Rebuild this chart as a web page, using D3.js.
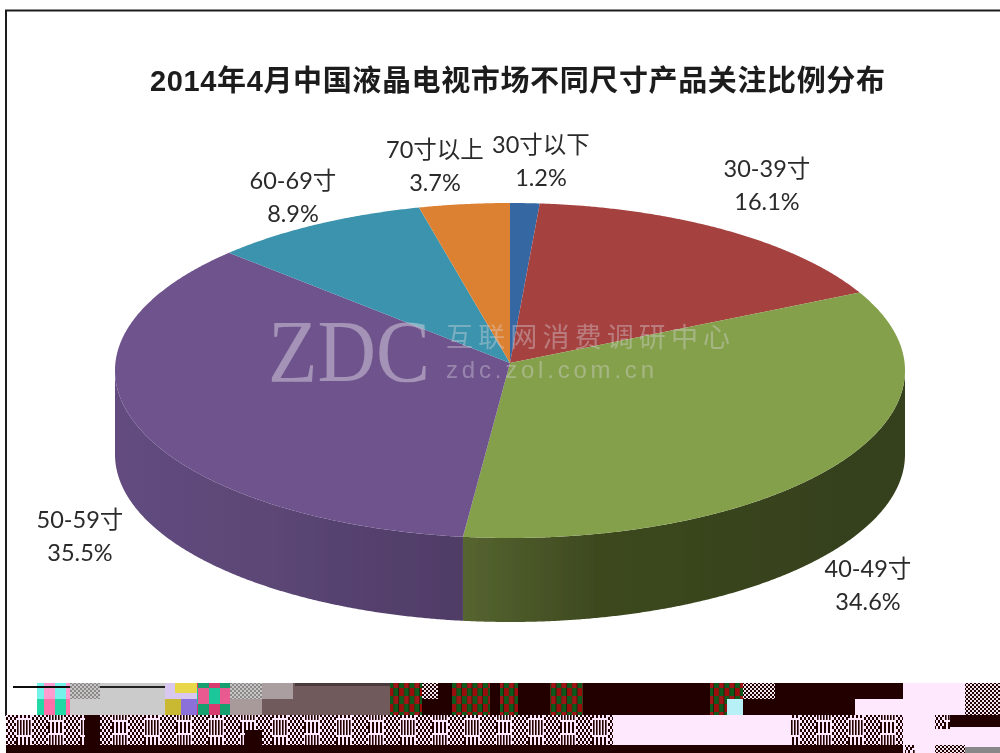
<!DOCTYPE html>
<html><head><meta charset="utf-8">
<script src="https://cdn.jsdelivr.net/npm/d3@7"></script>
<style>html,body{margin:0;padding:0;background:#fff}svg{display:block}</style>
</head><body><svg id="c" width="1000" height="753"></svg>
<script>
const categories=["30寸以下","30-39寸","40-49寸","50-59寸","60-69寸","70寸以上"];
const shares=[1.2,16.1,34.6,35.5,8.9,3.7];
const topColors=["#3567a3","#a5423f","#84a04b","#6e528d","#3b93ad","#dc8133"];
const labelCentres=[[541,153],[767,177],[868,577],[80,528],[293,189],[435,158]];
const titleText="2014年4月中国液晶电视市场不同尺寸产品关注比例分布";

const svg=d3.select("#c");
const defs=svg.append("defs");
const DARK="#240000",PINK="#fde8fd";

defs.append("filter").attr("id","soft").append("feGaussianBlur").attr("stdDeviation",0.5);
defs.append("filter").attr("id","soft2").append("feGaussianBlur").attr("stdDeviation",0.7);

function grad(id,stops){
  const g=defs.append("linearGradient").attr("id",id).attr("gradientUnits","userSpaceOnUse")
    .attr("x1",115).attr("x2",905).attr("y1",0).attr("y2",0);
  stops.forEach(([o,c])=>g.append("stop").attr("offset",o).attr("stop-color",c));
}
grad("sidePurple",[[0,"#634c80"],[0.2,"#5b4675"],[0.44,"#4f3c66"],[1,"#4f3c66"]]);
grad("sideGreen",[[0,"#566530"],[0.44,"#566530"],[0.52,"#4a5728"],[0.62,"#3c481e"],[1,"#343f1b"]]);
const sideFill={2:"url(#sideGreen)",3:"url(#sidePurple)"};

// pie geometry
const x=d3.scaleLinear().domain([-1,1]).range([115,905]);
const y=d3.scaleLinear().domain([-1,1]).range([203,538]);
const apex=[510,363], depth=84;
const rim=a=>[x(Math.sin(a)),y(-Math.cos(a))];
const arcs=d3.pie().sort(null).value(d=>d)(shares);
const line=d3.line();
const samples=(a,b)=>d3.range(a,b,0.005).concat([b]);

const pieG=svg.append("g").attr("filter","url(#soft)");
arcs.forEach((d,i)=>{
  const a=Math.max(d.startAngle,Math.PI/2),b=Math.min(d.endAngle,1.5*Math.PI);
  if(a>=b)return;
  const up=samples(a,b).map(rim);
  const down=up.slice().reverse().map(p=>[p[0],p[1]+depth]);
  pieG.append("path").attr("d",line(up.concat(down))+"Z").attr("fill",sideFill[i]);
});
arcs.forEach((d,i)=>{
  pieG.append("path").attr("d",line([apex].concat(samples(d.startAngle,d.endAngle).map(rim)))+"Z")
    .attr("fill",topColors[i]);
});

// watermark
const wm=svg.append("g").attr("filter","url(#soft2)");
wm.append("text").attr("x",268).attr("y",381).attr("font-family","Liberation Serif")
  .attr("font-size",88).attr("textLength",162).attr("lengthAdjust","spacingAndGlyphs")
  .attr("fill","#dedae2").attr("fill-opacity",.48).text("ZDC");
wm.append("text").attr("x",446).attr("y",347).attr("font-family","Noto Sans CJK SC")
  .attr("font-size",27).attr("textLength",284).attr("fill","#dcd8e0").attr("fill-opacity",.38).text("互联网消费调研中心");
wm.append("text").attr("x",446).attr("y",378).attr("font-family","Liberation Sans")
  .attr("font-size",24).attr("textLength",208).attr("fill","#dcd8e0").attr("fill-opacity",.38).text("zdc.zol.com.cn");

// title
svg.append("text").attr("x",150).attr("y",91).attr("font-family","Liberation Sans, Noto Sans CJK SC")
  .attr("font-weight",700).attr("font-size",29).attr("textLength",735).attr("fill","#1a1a1a")
  .attr("filter","url(#soft)").text(titleText);

// labels
const lab=svg.append("g").attr("font-family","Lato, Noto Sans CJK SC").attr("font-size",23.5)
  .attr("fill","#2a2a2a").attr("text-anchor","middle").attr("filter","url(#soft)");
categories.forEach((c,i)=>{
  const [lx,ly]=labelCentres[i];
  lab.append("text").attr("x",lx).attr("y",ly).text(c);
  lab.append("text").attr("x",lx).attr("y",ly+33).text(shares[i].toFixed(1)+"%");
});

// frame
svg.append("path").attr("d","M6 716V10.5H1000").attr("fill","none").attr("stroke","#1c1c1c").attr("stroke-width",2);

// corrupted image strip at the bottom
function tile(id,w,h,cells,a,b){
  const p=defs.append("pattern").attr("id",id).attr("patternUnits","userSpaceOnUse").attr("width",w).attr("height",h);
  p.append("rect").attr("width",w).attr("height",h).attr("fill",a);
  cells.forEach(([cx,cy,cw,ch,col])=>p.append("rect").attr("x",cx).attr("y",cy).attr("width",cw).attr("height",ch).attr("fill",col||b));
}
const mix=[];
for(let i=0;i<8;i++){ for(let j=0;j<5;j++){ if((i+j)%2==0) mix.push([i*2,j*3,2,3]); } }
for(let i=0;i<5;i++){ mix.push([16+i*3+1,0,1.6,15]); }
for(let i=0;i<8;i++){ for(let j=0;j<5;j++){ if((i+j)%2==1) mix.push([32+i*2,j*3,2,3]); } }
for(let i=0;i<4;i++){ mix.push([48+i*4,2,2,11]); }
tile("noise",64,30,mix.concat(mix.map(m=>[(m[0]+32)%64,m[1]+15,m[2],m[3]])),PINK,DARK);
const chk=[];for(let i=0;i<8;i++)for(let j=0;j<8;j++) if((i+j)%2==0) chk.push([i*2,j*2,2,2]);
tile("chkGray",16,16,chk,"#c9c6c6","#8a8888");
tile("chkDark",16,16,chk,"#f3e6f0",DARK);
tile("cmykTop",22,16,[[0,0,11,16,"#ff9ccf"],[11,0,11,16,"#74f2ea"]],PINK,DARK);
tile("cmykBot",22,16,[[0,0,11,16,"#ff6fa8"],[11,0,11,16,"#22d8a4"]],PINK,DARK);
tile("cmykMid",22,32,[[0,0,11,16,"#12a070"],[11,0,11,16,"#d83a70"],[0,16,11,16,"#e85a90"],[11,16,11,16,"#1ec89a"]],PINK,DARK);
const rg=[[0,0,5,8,"#9a1010"],[5,0,5,8,"#0a5a1a"],[0,8,5,8,"#0a5a1a"],[5,8,5,8,"#a01414"]];
tile("redgreen",10.5,16,rg,DARK,DARK);

const strip=[
 [6,715,994,38,DARK],
 [70,683,95,32,"#cbcbcb"],
 [37,683,33,16,"url(#cmykTop)"],[37,699,33,16,"url(#cmykBot)"],
 [70,683,30,16,"url(#chkGray)"],
 [165,683,32,16,"#d8c8f0"],[175,683,22,10,"#e8d84a"],[165,699,16,16,"#c8b830"],[181,699,16,16,"#8a70d8"],
 [197,683,33,32,"url(#cmykMid)"],
 [230,683,32,16,"url(#chkGray)"],[230,699,32,16,"#a89a9a"],
 [262,683,31,16,"#ab9ea0"],[262,699,31,16,"#6f5a5c"],[293,683,97,32,"#6f5a5c"],
 [390,683,32,32,"url(#redgreen)"],
 [422,683,16,16,"url(#chkDark)"],[422,699,16,16,DARK],
 [438,683,465,32,DARK],
 [452,683,38,32,"url(#redgreen)"],[500,683,18,32,"url(#redgreen)"],[550,683,33,32,"url(#redgreen)"],
 [710,683,33,32,"url(#redgreen)"],[743,683,32,16,"url(#chkDark)"],[727,699,16,16,"#b8f0f8"],
 [855,699,48,16,PINK],[903,683,62,32,PINK],[965,683,35,32,"url(#chkDark)"],
 [6,715,79,30,"url(#noise)"],[100,715,513,30,"url(#noise)"],[245,730,17,15,DARK],
 [613,715,177,30,PINK],[790,715,113,30,"url(#noise)"],
 [903,715,32,30,PINK],[935,715,15,14,"url(#noise)"],[950,715,50,12,DARK],[950,727,50,18,PINK],[935,729,15,16,PINK],
 [903,745,97,8,PINK],[905,745,10,8,"url(#noise)"],[935,745,30,8,"url(#chkDark)"],[965,747,35,6,"#888888"]
];
const sG=svg.append("g").attr("filter","url(#soft)");
strip.forEach(([a,b,w,h,f])=>sG.append("rect").attr("x",a).attr("y",b).attr("width",w).attr("height",h).attr("fill",f));
sG.append("rect").attr("x",13).attr("y",686).attr("width",57).attr("height",2).attr("fill","#111");
sG.append("rect").attr("x",100).attr("y",686).attr("width",65).attr("height",2).attr("fill","#222");
sG.append("rect").attr("x",295).attr("y",683).attr("width",95).attr("height",3).attr("fill","#4a3a3c");
</script></body></html>
